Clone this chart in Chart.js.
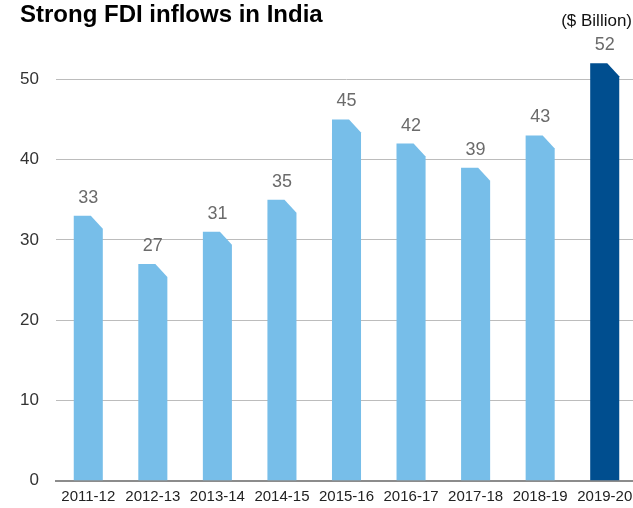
<!DOCTYPE html>
<html>
<head>
<meta charset="utf-8">
<script src="https://cdn.jsdelivr.net/npm/chart.js@4"></script>
<style>
  html, body { margin: 0; padding: 0; background: #fff; overflow: hidden; }
  #fdiChart { display: block; }
</style>
</head>
<body>
<canvas id="fdiChart" width="640" height="508"></canvas>
<script>
const years = ["2011-12", "2012-13", "2013-14", "2014-15", "2015-16", "2016-17", "2017-18", "2018-19", "2019-20"];
const inflows = [33, 27, 31, 35, 45, 42, 39, 43, 52];
const yTicks = [0, 10, 20, 30, 40, 50];

const lightBlue = "#77bee9";
const darkBlue = "#004e8f";
const barColors = years.map((y, i) => (i === years.length - 1 ? darkBlue : lightBlue));

// bars with the top-right corner cut off, plus value labels and the unit text
const chamferBars = {
  id: "chamferBars",
  beforeDatasetDraw() {
    return false;
  },
  afterDatasetsDraw(chart) {
    const ctx = chart.ctx;
    const meta = chart.getDatasetMeta(0);
    const ds = chart.data.datasets[0];
    ctx.save();
    meta.data.forEach((bar, i) => {
      const left = bar.x - bar.width / 2;
      const right = bar.x + bar.width / 2;
      const top = bar.y;
      const base = bar.base;
      const cut = 12;
      ctx.beginPath();
      ctx.moveTo(left, base);
      ctx.lineTo(left, top);
      ctx.lineTo(right - cut, top);
      ctx.lineTo(right, top + cut + 1);
      ctx.lineTo(right, base);
      ctx.closePath();
      ctx.fillStyle = ds.backgroundColor[i];
      ctx.fill();

      ctx.fillStyle = "#6b6b6b";
      ctx.font = "18px 'Liberation Sans', Arial, sans-serif";
      ctx.textAlign = "center";
      ctx.textBaseline = "middle";
      ctx.fillText(String(ds.data[i]), bar.x, top - 18);
    });
    ctx.restore();
  },
  afterDraw(chart) {
    const ctx = chart.ctx;
    ctx.save();
    ctx.fillStyle = "#111";
    ctx.font = "17px 'Liberation Sans', Arial, sans-serif";
    ctx.textAlign = "right";
    ctx.textBaseline = "middle";
    ctx.fillText("($ Billion)", 632, 21);
    ctx.restore();
  }
};

const ctx = document.getElementById("fdiChart").getContext("2d");

new Chart(ctx, {
  type: "bar",
  data: {
    labels: years,
    datasets: [{
      data: inflows,
      backgroundColor: barColors,
      categoryPercentage: 0.9,
      barPercentage: 0.5
    }]
  },
  options: {
    responsive: false,
    animation: false,
    devicePixelRatio: 1,
    layout: {
      padding: { left: 20, right: 3, top: 0, bottom: 2 }
    },
    plugins: {
      legend: { display: false },
      tooltip: { enabled: false },
      title: {
        display: true,
        text: "Strong FDI inflows in India",
        align: "start",
        color: "#000",
        font: { family: "'Liberation Sans', Arial, sans-serif", size: 24, weight: "bold" },
        padding: { top: 1, bottom: 49.5 }
      }
    },
    scales: {
      x: {
        afterFit: (scale) => { scale.height = 25; },
        grid: { display: false, drawTicks: false },
        border: { display: true, color: "#8c8c8c", width: 2 },
        ticks: {
          color: "#222",
          padding: 7,
          maxRotation: 0,
          autoSkip: false,
          font: { family: "'Liberation Sans', Arial, sans-serif", size: 15 }
        }
      },
      y: {
        min: 0,
        max: 50,
        afterFit: (scale) => { scale.width = 36; },
        afterBuildTicks: (scale) => {
          scale.ticks = yTicks.map(v => ({ value: v }));
        },
        border: { display: false },
        grid: {
          drawTicks: false,
          color: (c) => (c.tick && c.tick.value === 0 ? "rgba(0,0,0,0)" : "#bcbcbc"),
          lineWidth: 1
        },
        ticks: {
          color: "#333",
          padding: 17,
          font: { family: "'Liberation Sans', Arial, sans-serif", size: 17 }
        }
      }
    }
  },
  plugins: [chamferBars]
});
</script>
</body>
</html>
